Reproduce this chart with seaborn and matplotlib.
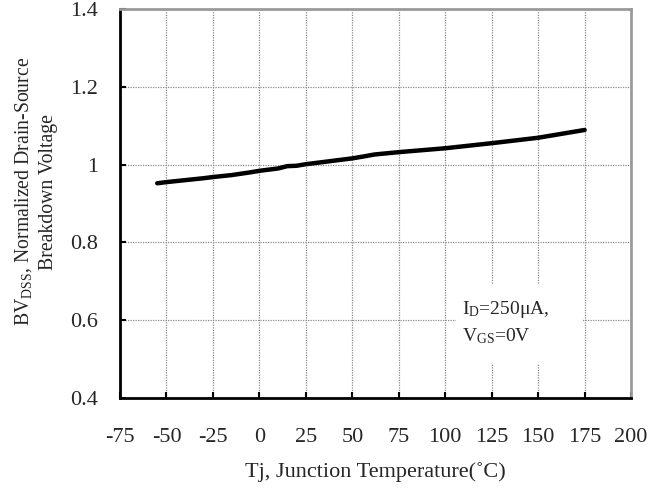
import matplotlib
matplotlib.use("Agg")
import matplotlib.pyplot as plt
import seaborn as sns
import pandas as pd
from matplotlib.patches import Rectangle

# --- data ---
temp_c = [-55, -50, -40, -30, -25, -15, -5, 0, 10, 15, 20, 25, 40, 50, 55, 62, 75, 100, 125, 150, 175]
bv_norm = [0.952, 0.955, 0.960, 0.965, 0.968, 0.973, 0.980, 0.984, 0.990, 0.996, 0.997, 1.001,
           1.010, 1.016, 1.020, 1.026, 1.032, 1.042, 1.055, 1.069, 1.089]

x_ticks = [-75, -50, -25, 0, 25, 50, 75, 100, 125, 150, 175, 200]
y_ticks = [0.4, 0.6, 0.8, 1.0, 1.2, 1.4]
y_tick_labels = ["0.4", "0.6", "0.8", "1", "1.2", "1.4"]

sns.set_style("white")
plt.rcParams["font.family"] = ["Liberation Serif", "DejaVu Serif"]
plt.rcParams["mathtext.fontset"] = "custom"
plt.rcParams["mathtext.rm"] = "Liberation Serif"
plt.rcParams["mathtext.it"] = "Liberation Serif:italic"

df = pd.DataFrame({"Tj": temp_c, "BV": bv_norm})

fig = plt.figure(figsize=(6.65, 4.88), dpi=100)
ax = fig.add_axes([0.1805, 0.1844, 0.7685, 0.7972])

sns.lineplot(data=df, x="Tj", y="BV", ax=ax, color="black", linewidth=3.2, zorder=3)

ax.set_xlim(-75, 200)
ax.set_ylim(0.4, 1.4)
ax.set_xticks(x_ticks)
ax.set_xticklabels([str(t) for t in x_ticks])
ax.set_yticks(y_ticks)
ax.set_yticklabels(y_tick_labels)

# dotted grid behind everything
ax.set_axisbelow(True)
ax.grid(True, color="#8c8c8c", linestyle=(0, (1, 1)), linewidth=0.9)

# spines: black left/bottom, grey top/right
for side in ["left", "bottom"]:
    ax.spines[side].set_color("black")
    ax.spines[side].set_linewidth(2)
for side in ["top", "right"]:
    ax.spines[side].set_color("#9a9a9a")
    ax.spines[side].set_linewidth(2)

ax.tick_params(axis="both", direction="in", length=4, width=1.5, color="black",
               labelsize=16, bottom=True, left=True, top=False, right=False)
ax.tick_params(axis="x", pad=21.5)
ax.tick_params(axis="y", pad=16)

ax.set_xlabel("Tj, Junction Temperature(˚C)", fontsize=16, labelpad=11)
ax.set_ylabel("BV$_{\\mathrm{DSS}}$, Normalized Drain-Source\nBreakdown Voltage",
              fontsize=14.2, linespacing=1.3)
ax.yaxis.set_label_coords(-0.122, 0.53)

# white box behind the test-condition note, hiding the grid
ax.add_patch(Rectangle((106, 0.487), 67.7, 0.203, facecolor="white", edgecolor="none", zorder=1))
ax.text(109, 0.594, "I$_{\\mathrm{D}}$=250μA,\nV$_{\\mathrm{GS}}$=0V", fontsize=14,
        va="center", ha="left", linespacing=1.45, zorder=4)

fig.savefig("out.png", dpi=100)
